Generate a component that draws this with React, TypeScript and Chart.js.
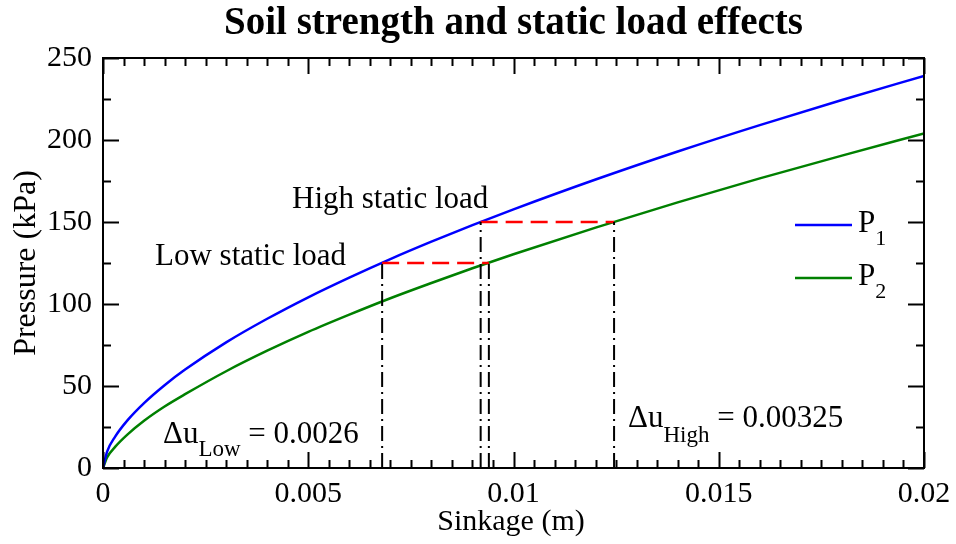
import React, { useEffect, useRef } from 'react';
import { Chart, registerables } from 'chart.js';

Chart.register(...registerables);

// Sinkage (m) sample positions along both pressure curves
const sinkage = [0, 0.0001, 0.0003, 0.0006, 0.001, 0.0015, 0.002, 0.003, 0.004, 0.005, 0.006, 0.007, 0.008, 0.009, 0.01, 0.012, 0.014, 0.016, 0.018, 0.02];
// Pressure (kPa) for the two soil curves
const pressureP1 = [0, 10, 19.3, 29.2, 39.6, 50.5, 60, 76.6, 91, 104.1, 116.1, 127.4, 138, 148.1, 157.7, 175.9, 193, 209.1, 224.4, 239.1];
const pressureP2 = [0, 6.5, 13, 20.5, 28.8, 37.5, 45, 59, 71.5, 83, 93.5, 103.5, 112.8, 121.8, 130.3, 146.6, 162, 176.6, 190.5, 204];

const seriesBase = ['P', 'P'];
const seriesSub = ['1', '2'];
const seriesColors = ['#0000ff', '#008000'];

const xTickLabels = ['0', '0.005', '0.01', '0.015', '0.02'];
const yTickLabels = ['0', '50', '100', '150', '200', '250'];

// Static load levels (kPa) and where they meet P1, plus the sinkage shifts to P2
const lowLoad = 125;
const highLoad = 150;
const lowOnP1 = 0.0068;
const deltaLow = 0.0026;
const highOnP1 = 0.0092;
const deltaHigh = 0.00325;

const FONT = '"Liberation Serif", "Times New Roman", serif';
const X_STEP = 0.005;
const Y_STEP = 50;

function drawSubscripted(
  ctx: CanvasRenderingContext2D,
  x: number,
  y: number,
  base: string,
  sub: string,
  rest: string,
  size: number,
  subSize: number,
  drop: number
) {
  ctx.font = `${size}px ${FONT}`;
  ctx.fillText(base, x, y);
  let w = ctx.measureText(base).width;
  ctx.font = `${subSize}px ${FONT}`;
  ctx.fillText(sub, x + w, y + drop);
  w += ctx.measureText(sub).width;
  if (rest) {
    ctx.font = `${size}px ${FONT}`;
    ctx.fillText(rest, x + w, y);
  }
}

const decorPlugin = {
  id: 'decor',
  afterDatasetsDraw(chart: any) {
    const { ctx, chartArea: a, scales } = chart;
    const xs = scales.x;
    const ys = scales.y;
    ctx.save();

    // frame
    ctx.strokeStyle = '#000';
    ctx.lineWidth = 2;
    ctx.strokeRect(a.left, a.top, a.right - a.left, a.bottom - a.top);

    // inward tick marks on all four sides
    ctx.lineWidth = 2;
    ctx.beginPath();
    const xMinor = X_STEP / 10;
    for (let i = 0; i <= 40; i++) {
      const px = Math.round(xs.getPixelForValue(i * xMinor)) + 0.5;
      const len = i % 10 === 0 ? 16 : 8;
      ctx.moveTo(px, a.bottom);
      ctx.lineTo(px, a.bottom - len);
      ctx.moveTo(px, a.top);
      ctx.lineTo(px, a.top + len);
    }
    const yMinor = Y_STEP / 2;
    for (let i = 0; i <= 10; i++) {
      const py = Math.round(ys.getPixelForValue(i * yMinor)) + 0.5;
      const len = i % 2 === 0 ? 16 : 8;
      ctx.moveTo(a.left, py);
      ctx.lineTo(a.left + len, py);
      ctx.moveTo(a.right, py);
      ctx.lineTo(a.right - len, py);
    }
    ctx.stroke();

    ctx.fillStyle = '#000';
    ctx.textBaseline = 'alphabetic';

    // title
    ctx.textAlign = 'center';
    ctx.font = `bold 39px ${FONT}`;
    ctx.fillText('Soil strength and static load effects', (a.left + a.right) / 2, 34);

    // axis titles
    ctx.font = `30px ${FONT}`;
    ctx.fillText('Sinkage (m)', 511, 530);
    ctx.save();
    ctx.translate(27, (a.top + a.bottom) / 2);
    ctx.rotate(-Math.PI / 2);
    ctx.textBaseline = 'middle';
    ctx.font = `32px ${FONT}`;
    ctx.fillText('Pressure (kPa)', 0, 0);
    ctx.restore();

    // load labels
    ctx.textAlign = 'left';
    ctx.font = `31px ${FONT}`;
    ctx.fillText('High static load', 292, 208);
    ctx.fillText('Low static load', 155, 265);

    // sinkage shift labels
    drawSubscripted(ctx, 163, 443, '\u0394u', 'Low', ` = ${deltaLow}`, 31, 23, 13);
    drawSubscripted(ctx, 628, 427, '\u0394u', 'High', ` = ${deltaHigh}`, 31, 23, 15);

    // legend
    const legendY = [225, 278];
    for (let i = 0; i < 2; i++) {
      ctx.strokeStyle = seriesColors[i];
      ctx.lineWidth = 2.5;
      ctx.beginPath();
      ctx.moveTo(795, legendY[i]);
      ctx.lineTo(852, legendY[i]);
      ctx.stroke();
      drawSubscripted(ctx, 858, legendY[i] + 7, seriesBase[i], seriesSub[i], '', 31, 22, 13);
    }

    ctx.restore();
  },
};

export default function App() {
  const canvasRef = useRef<HTMLCanvasElement | null>(null);

  useEffect(() => {
    document.body.style.margin = '0';
    const canvas = canvasRef.current;
    if (!canvas) return;

    const curve = (ys: number[]) => sinkage.map((x, i) => ({ x, y: ys[i] }));
    const seg = (x1: number, y1: number, x2: number, y2: number) => [
      { x: x1, y: y1 },
      { x: x2, y: y2 },
    ];
    const lowOnP2 = lowOnP1 + deltaLow;
    const highOnP2 = highOnP1 + deltaHigh;

    const dashDot = {
      borderColor: '#000',
      borderWidth: 2,
      borderDash: [15, 5, 2, 5],
      pointRadius: 0,
      fill: false,
    };
    const redDash = {
      borderColor: '#ff0000',
      borderWidth: 2.5,
      borderDash: [17, 8],
      pointRadius: 0,
      fill: false,
    };

    const chart = new Chart(canvas, {
      type: 'line',
      data: {
        datasets: [
          { ...dashDot, data: seg(lowOnP1, 0, lowOnP1, lowLoad) },
          { ...dashDot, data: seg(lowOnP2, 0, lowOnP2, lowLoad) },
          { ...dashDot, data: seg(highOnP1, 0, highOnP1, highLoad) },
          { ...dashDot, data: seg(highOnP2, 0, highOnP2, highLoad) },
          { ...redDash, data: seg(lowOnP1, lowLoad, lowOnP2, lowLoad) },
          { ...redDash, data: seg(highOnP1, highLoad, highOnP2, highLoad) },
          {
            label: 'P1',
            data: curve(pressureP1),
            borderColor: seriesColors[0],
            borderWidth: 2.5,
            pointRadius: 0,
            cubicInterpolationMode: 'monotone',
            fill: false,
          },
          {
            label: 'P2',
            data: curve(pressureP2),
            borderColor: seriesColors[1],
            borderWidth: 2.5,
            pointRadius: 0,
            cubicInterpolationMode: 'monotone',
            fill: false,
          },
        ] as any,
      },
      options: {
        responsive: false,
        animation: false,
        events: [],
        layout: { padding: { top: 58, right: 32, left: 0, bottom: 0 } },
        plugins: {
          legend: { display: false },
          title: { display: false },
          tooltip: { enabled: false },
        },
        scales: {
          x: {
            type: 'linear',
            min: 0,
            max: 0.02,
            afterFit: (s: any) => {
              s.height = 76;
              s.paddingLeft = 0;
              s.paddingRight = 0;
            },
            ticks: {
              stepSize: X_STEP,
              autoSkip: false,
              maxRotation: 0,
              padding: 8,
              color: '#000',
              font: { family: FONT, size: 30 },
              callback: (v: any) => xTickLabels[Math.round(Number(v) / X_STEP)] ?? '',
            },
            grid: { display: false, drawTicks: false },
            border: { display: false },
          },
          y: {
            type: 'linear',
            min: 0,
            max: 250,
            afterFit: (s: any) => {
              s.width = 103;
              s.paddingTop = 0;
              s.paddingBottom = 0;
            },
            ticks: {
              stepSize: Y_STEP,
              padding: 11,
              color: '#000',
              font: { family: FONT, size: 30 },
              callback: (v: any) => yTickLabels[Math.round(Number(v) / Y_STEP)] ?? '',
            },
            grid: { display: false, drawTicks: false },
            border: { display: false },
          },
        },
      } as any,
      plugins: [decorPlugin],
    });

    return () => chart.destroy();
  }, []);

  return (
    <div style={{ width: 956, height: 544, background: '#fff' }}>
      <canvas ref={canvasRef} width={956} height={544} style={{ display: 'block' }} />
    </div>
  );
}
